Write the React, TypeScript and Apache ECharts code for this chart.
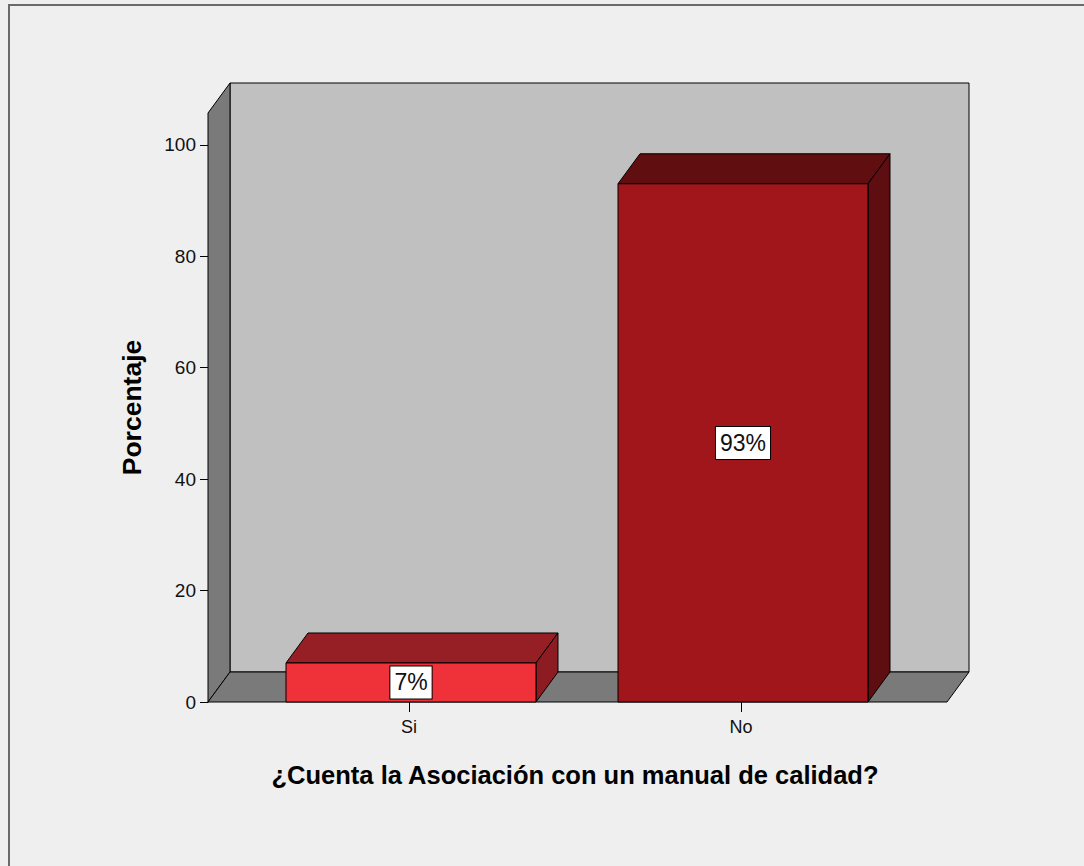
import React, { useEffect, useRef } from "react";
import * as echarts from "echarts";

const categories = ["Si", "No"];
const percentages = [7, 93];
const yTicks = [0, 20, 40, 60, 80, 100];
const yMax = 105.7;
const xTitle = "¿Cuenta la Asociación con un manual de calidad?";
const yTitle = "Porcentaje";

const frontColors = ["#ef3239", "#a0161a"];
const topColors = ["#951f24", "#610e11"];
const sideColors = ["#8c1c21", "#5e0e11"];

const DX = 22;
const DY = -30;
const BAR_SHIFT = 2;
const FONT = 'Arial, "Liberation Sans", sans-serif';

export default function App() {
  const ref = useRef<HTMLDivElement>(null);
  useEffect(() => {
    const chart = echarts.init(ref.current!, null, { renderer: "svg" });
    const wallItem = (params: any) => {
      const cs = params.coordSys;
      const fl = cs.x - 35;
      const fr = cs.x + cs.width + 40;
      const ft = cs.y;
      const fb = cs.y + cs.height;
      const stroke = { stroke: "#000", lineWidth: 1 };
      return {
        type: "group",
        children: [
          {
            type: "rect",
            shape: { x: fl + DX, y: ft + DY, width: fr - fl, height: fb - ft },
            style: { fill: "#c0c0c0", ...stroke },
          },
          {
            type: "polygon",
            shape: { points: [[fl, ft], [fl + DX, ft + DY], [fl + DX, fb + DY], [fl, fb]] },
            style: { fill: "#7a7a7a", ...stroke },
          },
          {
            type: "polygon",
            shape: { points: [[fl, fb], [fl + DX, fb + DY], [fr + DX, fb + DY], [fr, fb]] },
            style: { fill: "#7a7a7a", ...stroke },
          },
        ],
      };
    };
    const barItem = (params: any, api: any) => {
      const i = params.dataIndex;
      const v = api.value(1);
      const base = api.coord([api.value(0), 0]);
      const top = api.coord([api.value(0), v]);
      const bw = api.size([1, 0])[0] * 0.753;
      const cx = base[0] + BAR_SHIFT;
      const l = cx - bw / 2;
      const r = cx + bw / 2;
      const t = top[1];
      const b = base[1];
      const stroke = { stroke: "#000", lineWidth: 1 };
      return {
        type: "group",
        children: [
          {
            type: "polygon",
            shape: { points: [[l, t], [l + DX, t + DY], [r + DX, t + DY], [r, t]] },
            style: { fill: topColors[i], ...stroke },
          },
          {
            type: "polygon",
            shape: { points: [[r, t], [r + DX, t + DY], [r + DX, b + DY], [r, b]] },
            style: { fill: sideColors[i], ...stroke },
          },
          {
            type: "rect",
            shape: { x: l, y: t, width: bw, height: b - t },
            style: { fill: frontColors[i], ...stroke },
          },
          {
            type: "text",
            x: cx,
            y: (t + b) / 2,
            style: {
              text: `${v}%`,
              align: "center",
              verticalAlign: "middle",
              fill: "#111",
              font: `23px ${FONT}`,
              backgroundColor: "#fff",
              borderColor: "#000",
              borderWidth: 1,
              padding: [5, 4, 4, 4],
            },
          },
        ],
      };
    };
    chart.setOption({
      animation: false,
      backgroundColor: "#efefef",
      graphic: [
        {
          type: "rect",
          shape: { x: 9, y: 5, width: 1200, height: 1000 },
          style: { fill: "none", stroke: "#6a6a6a", lineWidth: 2 },
          z: -10,
        },
      ],
      grid: { left: 243, right: 177, top: 113, bottom: 164 },
      xAxis: {
        type: "category",
        data: categories,
        name: xTitle,
        nameLocation: "middle",
        nameGap: 60,
        nameTextStyle: { fontFamily: FONT, fontWeight: "bold", fontSize: 25.5, color: "#000" },
        axisLine: { show: false },
        axisTick: { show: true, alignWithLabel: true, length: 10, lineStyle: { color: "#000" } },
        axisLabel: { fontFamily: FONT, fontSize: 18, color: "#111", margin: 16 },
        z: 10,
      },
      yAxis: {
        type: "value",
        min: 0,
        max: yMax,
        interval: 20,
        offset: 35,
        name: yTitle,
        nameLocation: "middle",
        nameGap: 63,
        nameRotate: 90,
        nameTextStyle: { fontFamily: FONT, fontWeight: "bold", fontSize: 26.5, color: "#000" },
        splitLine: { show: false },
        axisLine: { show: true, lineStyle: { color: "#000" } },
        axisTick: { show: true, length: 8, lineStyle: { color: "#000" }, customValues: yTicks },
        axisLabel: { fontFamily: FONT, fontSize: 19, color: "#111", margin: 12, customValues: yTicks },
      },
      series: [
        {
          type: "custom",
          renderItem: wallItem,
          data: [[0, 0]],
          silent: true,
          z: 1,
        },
        {
          type: "custom",
          renderItem: barItem,
          data: categories.map((c, i) => [i, percentages[i]]),
          z: 2,
        },
      ],
    });
    return () => chart.dispose();
  }, []);
  return (
    <div
      ref={ref}
      style={{ position: "fixed", left: 0, top: 0, width: 1084, height: 866 }}
    />
  );
}
